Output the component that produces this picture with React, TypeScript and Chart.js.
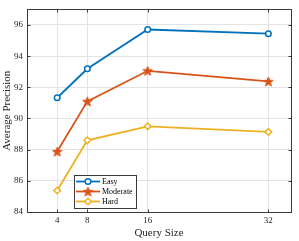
import React, { useEffect, useRef } from "react";
import { Chart, registerables } from "chart.js";

Chart.register(...registerables);

const querySizes = [4, 8, 16, 32];
const easy = [91.33, 93.19, 95.71, 95.44];
const moderate = [87.88, 91.1, 93.06, 92.38];
const hard = [85.38, 88.6, 89.5, 89.14];
const yTicks = [84, 86, 88, 90, 92, 94, 96];
const seriesNames = ["Easy", "Moderate", "Hard"];
const colors = ["#0072BD", "#D95319", "#EDB120"];

const FONT = "'Liberation Serif', 'Times New Roman', serif";
const AXIS_COLOR = "#3a3a3a";

function makeStar(color: string, size: number): HTMLCanvasElement {
  const c = document.createElement("canvas");
  c.width = size;
  c.height = size;
  const ctx = c.getContext("2d")!;
  const cx = size / 2;
  const cy = size / 2 + 0.5;
  const outer = size / 2 - 0.5;
  const inner = outer * 0.42;
  ctx.beginPath();
  for (let i = 0; i < 10; i++) {
    const r = i % 2 === 0 ? outer : inner;
    const a = -Math.PI / 2 + (i * Math.PI) / 5;
    const x = cx + r * Math.cos(a);
    const y = cy + r * Math.sin(a);
    if (i === 0) ctx.moveTo(x, y);
    else ctx.lineTo(x, y);
  }
  ctx.closePath();
  ctx.fillStyle = color;
  ctx.fill();
  ctx.strokeStyle = color;
  ctx.lineWidth = 1;
  ctx.stroke();
  return c;
}

export default function App() {
  const ref = useRef<HTMLCanvasElement | null>(null);

  useEffect(() => {
    document.body.style.margin = "0";
    const canvas = ref.current!;
    const star = makeStar(colors[1], 11);
    const pointStyles: any[] = ["circle", star, "rectRot"];
    const seriesData = [easy, moderate, hard];

    const boxPlugin = {
      id: "boxAndLegend",
      afterDraw(chart: any) {
        const ctx = chart.ctx as CanvasRenderingContext2D;
        const a = chart.chartArea;
        const L = Math.round(a.left) + 0.5;
        const T = Math.round(a.top) + 0.5;
        const R = Math.round(a.right) + 0.5;
        const B = Math.round(a.bottom) + 0.5;
        ctx.save();
        ctx.strokeStyle = AXIS_COLOR;
        ctx.lineWidth = 1;
        ctx.strokeRect(L, T, R - L, B - T);

        // inward tick marks on all four sides
        const xs = chart.scales.x;
        const ys = chart.scales.y;
        const tl = 3;
        ctx.beginPath();
        for (const v of querySizes) {
          const px = Math.round(xs.getPixelForValue(v)) + 0.5;
          ctx.moveTo(px, B);
          ctx.lineTo(px, B - tl);
          ctx.moveTo(px, T);
          ctx.lineTo(px, T + tl);
        }
        for (const v of yTicks) {
          const py = Math.round(ys.getPixelForValue(v)) + 0.5;
          ctx.moveTo(L, py);
          ctx.lineTo(L + tl, py);
          ctx.moveTo(R, py);
          ctx.lineTo(R - tl, py);
        }
        ctx.stroke();

        // legend
        const lx = 74, ly = 175, lw = 62, lh = 33;
        ctx.fillStyle = "#ffffff";
        ctx.fillRect(lx, ly, lw, lh);
        ctx.strokeStyle = AXIS_COLOR;
        ctx.strokeRect(lx + 0.5, ly + 0.5, lw, lh);
        ctx.font = `8px ${FONT}`;
        ctx.textBaseline = "middle";
        ctx.textAlign = "left";
        for (let i = 0; i < seriesNames.length; i++) {
          const y = ly + 6.5 + i * 10;
          ctx.strokeStyle = colors[i];
          ctx.lineWidth = 1.8;
          ctx.beginPath();
          ctx.moveTo(76, y);
          ctx.lineTo(100, y);
          ctx.stroke();
          const mx = 88;
          if (i === 0) {
            ctx.beginPath();
            ctx.arc(mx, y, 2.8, 0, Math.PI * 2);
            ctx.fillStyle = "#ffffff";
            ctx.fill();
            ctx.lineWidth = 1.5;
            ctx.stroke();
          } else if (i === 1) {
            ctx.drawImage(star, mx - star.width / 2, y - star.height / 2);
          } else {
            const r = 3.3;
            ctx.beginPath();
            ctx.moveTo(mx, y - r);
            ctx.lineTo(mx + r, y);
            ctx.lineTo(mx, y + r);
            ctx.lineTo(mx - r, y);
            ctx.closePath();
            ctx.fillStyle = "#ffffff";
            ctx.fill();
            ctx.lineWidth = 1.5;
            ctx.stroke();
          }
          ctx.fillStyle = "#000000";
          ctx.fillText(seriesNames[i], 102, y + 0.5);
        }
        ctx.restore();
      },
    };

    const chart = new Chart(canvas, {
      type: "line",
      data: {
        datasets: seriesNames.map((name, i) => ({
          label: name,
          data: querySizes.map((x, j) => ({ x, y: seriesData[i][j] })),
          borderColor: colors[i],
          backgroundColor: "#ffffff",
          pointBackgroundColor: i === 1 ? colors[i] : "#ffffff",
          pointBorderColor: colors[i],
          borderWidth: 1.8,
          pointStyle: pointStyles[i],
          pointRadius: i === 0 ? 2.8 : 3.3,
          pointBorderWidth: 1.5,
          tension: 0,
          fill: false,
        })),
      },
      options: {
        responsive: false,
        animation: false,
        devicePixelRatio: 1,
        layout: { padding: { top: 3, right: 8, left: 0, bottom: 0 } },
        plugins: {
          legend: { display: false },
          tooltip: { enabled: false },
        },
        scales: {
          x: {
            type: "linear",
            min: 0,
            max: 35,
            afterBuildTicks: (s: any) => {
              s.ticks = querySizes.map((v) => ({ value: v }));
            },
            afterFit: (s: any) => {
              s.height = 29;
            },
            grid: { color: "#e3e3e3", lineWidth: 1, drawTicks: false },
            border: { display: false },
            ticks: {
              font: { family: FONT, size: 9 },
              color: "#262626",
              padding: 3,
              maxRotation: 0,
              callback: (v: any) => String(v),
            },
            title: {
              display: true,
              text: "Query Size",
              font: { family: FONT, size: 11 },
              color: "#262626",
              padding: { top: 0, bottom: 1 },
            },
          },
          y: {
            type: "linear",
            min: 84,
            max: 97,
            afterBuildTicks: (s: any) => {
              s.ticks = yTicks.map((v) => ({ value: v }));
            },
            afterFit: (s: any) => {
              s.width = 27;
            },
            grid: { color: "#e3e3e3", lineWidth: 1, drawTicks: false },
            border: { display: false },
            ticks: {
              font: { family: FONT, size: 9 },
              color: "#262626",
              padding: 4,
              callback: (v: any) => String(v),
            },
            title: {
              display: true,
              text: "Average Precision",
              font: { family: FONT, size: 11 },
              color: "#262626",
              padding: { top: 1, bottom: 0 },
            },
          },
        },
      },
      plugins: [boxPlugin],
    });

    return () => chart.destroy();
  }, []);

  return <canvas ref={ref} width={299} height={241} style={{ display: "block" }} />;
}
